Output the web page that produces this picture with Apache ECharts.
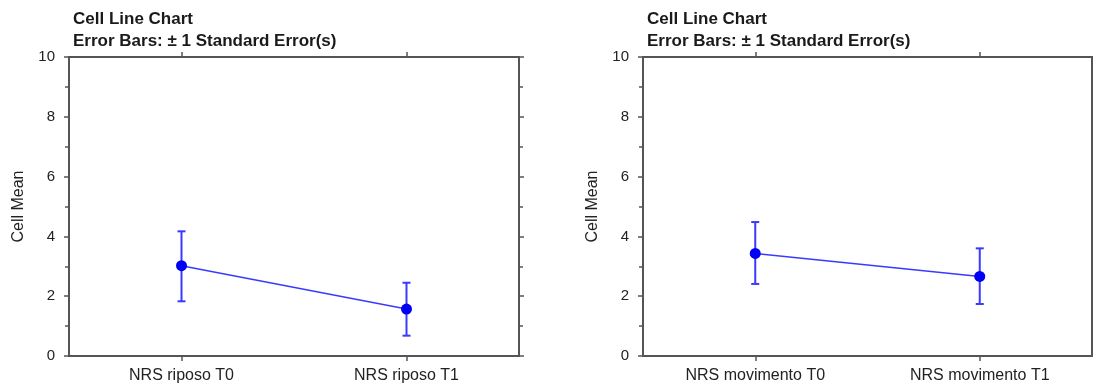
<!DOCTYPE html>
<html>
<head>
<meta charset="utf-8">
<script src="https://cdn.jsdelivr.net/npm/echarts@6/dist/echarts.min.js"></script>
<style>
  html, body { margin: 0; padding: 0; background: #fff; }
  #chart { width: 1093px; height: 389px; }
</style>
</head>
<body>
<div id="chart"></div>
<script>
const TITLE_1 = "Cell Line Chart";
const TITLE_2 = "Error Bars: \u00b1 1 Standard Error(s)";
const Y_NAME = "Cell Mean";

const leftCategories = ["NRS riposo T0", "NRS riposo T1"];
const leftMeans = [3.02, 1.57];
const leftLow = [1.83, 0.68];
const leftHigh = [4.17, 2.45];

const rightCategories = ["NRS movimento T0", "NRS movimento T1"];
const rightMeans = [3.43, 2.66];
const rightLow = [2.41, 1.74];
const rightHigh = [4.48, 3.6];

const LINE = "#3a3aff";
const ERR = "#3a3aff";
const AXIS = "#555";
const FONT = "Liberation Sans, Arial, sans-serif";

const chart = echarts.init(document.getElementById("chart"));

const panels = [
  { cats: leftCategories, means: leftMeans, low: leftLow, high: leftHigh, left: 69, width: 450 },
  { cats: rightCategories, means: rightMeans, low: rightLow, high: rightHigh, left: 643, width: 449 },
];

const grid = [], xAxis = [], yAxis = [], series = [], title = [];

panels.forEach((p, i) => {
  grid.push({ left: p.left, width: p.width, top: 57, height: 299 });

  title.push({
    text: TITLE_1 + "\n" + TITLE_2,
    left: p.left - 1, top: 3,
    textStyle: { fontFamily: FONT, fontSize: 17, fontWeight: "bold", color: "#1a1a1a", lineHeight: 22 },
  });

  const xBase = {
    type: "category", gridIndex: i, data: p.cats, boundaryGap: true,
    axisLine: { onZero: false, lineStyle: { color: AXIS, width: 2 } },
    axisTick: { show: true, alignWithLabel: true, interval: 0, length: 5, lineStyle: { color: AXIS, width: 1.5 } },
    splitLine: { show: false },
  };
  xAxis.push({ ...xBase, position: "bottom",
    axisLabel: { color: "#222", fontFamily: FONT, fontSize: 16, margin: 12 } });
  xAxis.push({ ...xBase, position: "top", axisLabel: { show: false, interval: 0 } });

  const yBase = {
    type: "value", gridIndex: i, min: 0, max: 10, interval: 2,
    axisLine: { show: true, onZero: false, lineStyle: { color: AXIS, width: 2 } },
    axisTick: { show: true, length: 5, lineStyle: { color: AXIS, width: 1.5 } },
    minorTick: { show: true, splitNumber: 2, length: 4, lineStyle: { color: AXIS, width: 1.5 } },
    splitLine: { show: false },
  };
  yAxis.push({ ...yBase, position: "left",
    name: Y_NAME, nameLocation: "middle", nameGap: 42, nameRotate: 90,
    nameTextStyle: { color: "#222", fontFamily: FONT, fontSize: 16 },
    axisLabel: { color: "#222", fontFamily: FONT, fontSize: 15, margin: 14 } });
  yAxis.push({ ...yBase, position: "right", axisLabel: { show: false } });

  series.push({
    type: "custom", xAxisIndex: i * 2, yAxisIndex: i * 2, z: 2,
    data: p.cats.map((c, k) => [k, p.low[k], p.high[k]]),
    renderItem: (params, api) => {
      const lo = api.coord([api.value(0), api.value(1)]);
      const hi = api.coord([api.value(0), api.value(2)]);
      const hw = 4;
      const st = { stroke: ERR, lineWidth: 2 };
      return { type: "group", children: [
        { type: "line", shape: { x1: lo[0], y1: lo[1], x2: hi[0], y2: hi[1] }, style: st },
        { type: "line", shape: { x1: lo[0] - hw, y1: lo[1], x2: lo[0] + hw, y2: lo[1] }, style: st },
        { type: "line", shape: { x1: hi[0] - hw, y1: hi[1], x2: hi[0] + hw, y2: hi[1] }, style: st },
      ] };
    },
  });
  series.push({
    type: "line", xAxisIndex: i * 2, yAxisIndex: i * 2, z: 3,
    data: p.means, symbol: "circle", symbolSize: 11,
    lineStyle: { color: LINE, width: 1.5 },
    itemStyle: { color: "#0000f5" },
  });
});

chart.setOption({
  animation: false,
  backgroundColor: "#fff",
  title, grid, xAxis, yAxis, series,
});
</script>
</body>
</html>
